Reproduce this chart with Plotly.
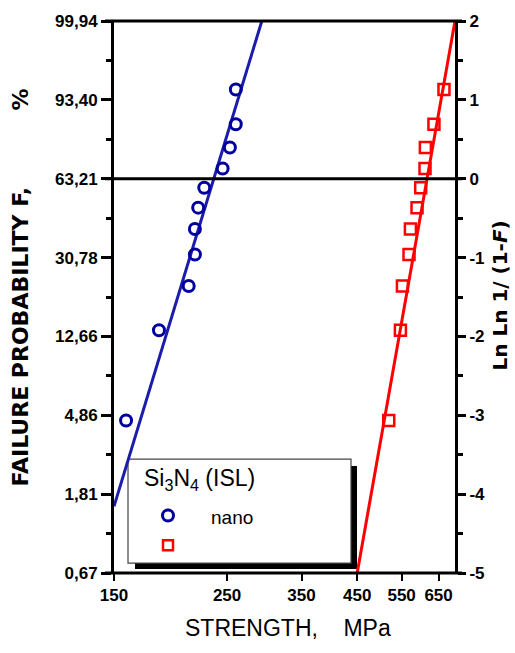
import math
import plotly.graph_objects as go

# ---------------- data ----------------
nano_strength = [260.1, 260.0, 253.2, 245.0, 225.5, 219.4, 216.2, 216.2, 210.2, 183.8, 158.4]
nano_lnln = [1.132, 0.690, 0.395, 0.130, -0.114, -0.367, -0.637, -0.961, -1.361, -1.921, -3.067]
ref_strength = [666.0, 636.5, 612.3, 611.3, 599.5, 589.6, 572.3, 568.7, 552.0, 547.0, 518.9]
ref_lnln = [1.132, 0.690, 0.395, 0.130, -0.114, -0.367, -0.637, -0.961, -1.361, -1.921, -3.067]
nano_fit_x = [150.0, 292.5]
nano_fit_y = [-4.154, 2.0]
ref_fit_x = [450.0, 700.0]
ref_fit_y = [-5.0, 2.0]

y_tickvals = [-5, -4, -3, -2, -1, 0, 1, 2]
y_left_text = ["0,67", "1,81", "4,86", "12,66", "30,78", "63,21", "93,40", "99,94"]
y_right_text = ["-5", "-4", "-3", "-2", "-1", "0", "1", "2"]
x_tickvals = [150, 250, 350, 450, 550, 650]
x_ticktext = ["150", "250", "350", "450", "550", "650"]

# ---------------- layout constants ----------------
W, H = 515, 653
L_REF, R_REF, T_REF, B_REF = 114, 455, 16, 573   # plot area in pixels
ML, MT = L_REF, T_REF
MR, MB = W - R_REF, H - B_REF
PW = R_REF - L_REF
PH = B_REF - T_REF

def px(x):
    return (x - L_REF) / PW

def py(y):
    return (B_REF - y) / PH

BLUE_M = "#0000a0"
BLUE_L = "#1c1caa"
RED = "#ff0000"
TICKFONT = dict(family="Liberation Sans, Arial, sans-serif", size=17, color="black")

def bold(lst):
    return ["<b>%s</b>" % s for s in lst]

fig = go.Figure()

fig.add_trace(go.Scatter(x=nano_fit_x, y=nano_fit_y, mode="lines",
                         line=dict(color=BLUE_L, width=3), showlegend=False,
                         xaxis="x", yaxis="y"))
fig.add_trace(go.Scatter(x=ref_fit_x, y=ref_fit_y, mode="lines",
                         line=dict(color=RED, width=3), showlegend=False,
                         xaxis="x", yaxis="y"))
fig.add_trace(go.Scatter(x=nano_strength, y=nano_lnln, mode="markers",
                         marker=dict(symbol="circle-open", size=11, color=BLUE_M,
                                     line=dict(width=3, color=BLUE_M)),
                         showlegend=False, xaxis="x", yaxis="y", cliponaxis=False))
fig.add_trace(go.Scatter(x=ref_strength, y=ref_lnln, mode="markers",
                         marker=dict(symbol="square-open", size=11, color=RED,
                                     line=dict(width=2.5, color=RED)),
                         showlegend=False, xaxis="x", yaxis="y", cliponaxis=False))
# invisible trace to keep the right axis alive
fig.add_trace(go.Scatter(x=[None], y=[None], xaxis="x", yaxis="y2",
                         showlegend=False, hoverinfo="skip"))

# legend markers (drawn on an overlay axis pair spanning the plot area, 0..1)
fig.add_trace(go.Scatter(x=[px(168)], y=[py(515)], mode="markers",
                         marker=dict(symbol="circle-open", size=11, color=BLUE_M,
                                     line=dict(width=3, color=BLUE_M)),
                         xaxis="x2", yaxis="y3", showlegend=False, cliponaxis=False))
fig.add_trace(go.Scatter(x=[px(168)], y=[py(545)], mode="markers",
                         marker=dict(symbol="square-open", size=10, color=RED,
                                     line=dict(width=2.5, color=RED)),
                         xaxis="x2", yaxis="y3", showlegend=False, cliponaxis=False))

shapes = []
# legend shadow and box (below traces so the legend markers sit on top)
shapes.append(dict(type="rect", xref="paper", yref="paper",
                   x0=px(135), x1=px(357), y0=py(569), y1=py(465),
                   fillcolor="black", line=dict(width=0), layer="below"))
shapes.append(dict(type="rect", xref="paper", yref="paper",
                   x0=px(128), x1=px(351), y0=py(563), y1=py(458),
                   fillcolor="white", line=dict(width=1.2, color="#444444"), layer="below"))
# horizontal lines at top (lnln=2), at 0 and bottom, extending slightly past axes
for ypos in [T_REF, T_REF + 2 * PH / 7.0, B_REF]:
    shapes.append(dict(type="line", xref="paper", yref="paper",
                       x0=px(105), x1=px(462), y0=py(ypos), y1=py(ypos),
                       line=dict(color="black", width=3), layer="above"))

annotations = [
    dict(text="Si<sub>3</sub>N<sub>4</sub> (ISL)", xref="paper", yref="paper",
         x=px(142), y=py(479), xanchor="left", yanchor="middle", showarrow=False,
         font=dict(family="Liberation Sans, Arial, sans-serif", size=23, color="black")),
    dict(text="nano", xref="paper", yref="paper",
         x=px(209), y=py(517), xanchor="left", yanchor="middle", showarrow=False,
         font=dict(family="Liberation Sans, Arial, sans-serif", size=19, color="black")),
    dict(text="<b>FAILURE PROBABILITY F,&nbsp;&nbsp;&nbsp;&nbsp;&nbsp;&nbsp;&nbsp;&nbsp;&nbsp;&nbsp;%</b>",
         xref="paper", yref="paper", x=px(21), y=py(285), textangle=-90,
         xanchor="center", yanchor="middle", showarrow=False,
         font=dict(family="DejaVu Sans, sans-serif", size=22, color="black")),
    dict(text="<b>Ln Ln 1/ (1-<i>F</i>)</b>",
         xref="paper", yref="paper", x=px(500), y=py(293), textangle=-90,
         xanchor="center", yanchor="middle", showarrow=False,
         font=dict(family="DejaVu Sans, sans-serif", size=20, color="black")),
    dict(text="STRENGTH,&nbsp;&nbsp;&nbsp;&nbsp;MPa",
         xref="paper", yref="paper", x=px(288), y=py(628),
         xanchor="center", yanchor="middle", showarrow=False,
         font=dict(family="Liberation Sans, Arial, sans-serif", size=23, color="black")),
]

minor_vals = [-4.5, -3.5, -2.5, -1.5, -0.5, 0.5, 1.5]

fig.update_layout(
    width=W, height=H,
    margin=dict(l=ML, r=MR, t=MT, b=MB, pad=0),
    paper_bgcolor="white", plot_bgcolor="rgba(0,0,0,0)",
    showlegend=False,
    xaxis=dict(type="log", range=[math.log10(150), math.log10(700)],
               tickmode="array", tickvals=x_tickvals, ticktext=bold(x_ticktext),
               ticks="outside", ticklen=7, tickwidth=2, tickcolor="black",
               showgrid=False, zeroline=False, showline=False,
               ticklabeloverflow="allow", tickfont=TICKFONT),
    yaxis=dict(range=[-5, 2], tickmode="array", tickvals=y_tickvals, ticktext=bold(y_left_text),
               ticks="outside", ticklen=10, tickwidth=2.5, tickcolor="black",
               minor=dict(tickmode="array", tickvals=minor_vals, ticks="outside",
                          ticklen=5, tickwidth=2.5, tickcolor="black"),
               showline=True, linewidth=3, linecolor="black",
               showgrid=False, zeroline=False, ticklabeloverflow="allow", tickfont=TICKFONT),
    yaxis2=dict(range=[-5, 2], overlaying="y", side="right", anchor="x",
                tickmode="array", tickvals=y_tickvals, ticktext=bold(y_right_text),
                ticks="outside", ticklen=8, tickwidth=2.5, tickcolor="black",
                minor=dict(tickmode="array", tickvals=minor_vals, ticks="outside",
                           ticklen=5, tickwidth=2.5, tickcolor="black"),
                showline=True, linewidth=3, linecolor="black",
                showgrid=False, zeroline=False, ticklabeloverflow="allow", tickfont=TICKFONT),
    xaxis2=dict(range=[0, 1], overlaying="x", visible=False, anchor="y3"),
    yaxis3=dict(range=[0, 1], overlaying="y", visible=False, anchor="x2"),
    shapes=shapes,
    annotations=annotations,
)

fig.write_html("out.html",
               config={"displayModeBar": False},
               post_script="document.body.style.margin='0px';document.body.style.overflow='hidden';")
